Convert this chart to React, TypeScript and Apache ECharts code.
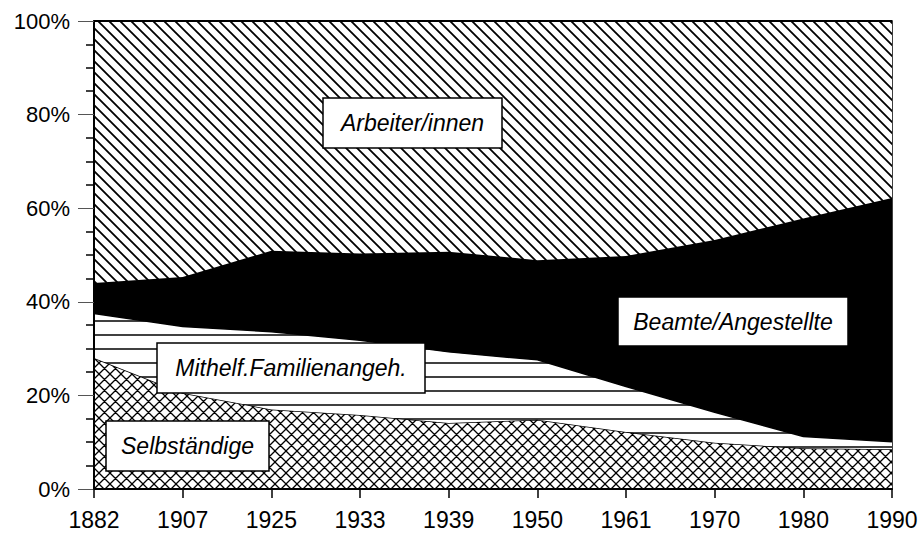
import React, { useEffect, useRef } from "react";
import * as echarts from "echarts";

const years = ["1882", "1907", "1925", "1933", "1939", "1950", "1961", "1970", "1980", "1990"];
const selbstaendige = [28, 20.5, 17, 15.8, 14.1, 14.8, 12.2, 9.9, 8.7, 8.5];
const mithelfende = [9.5, 14.2, 16.6, 16.0, 15.2, 12.8, 9.7, 6.5, 2.5, 1.6];
const beamte = [6.5, 10.6, 17.3, 18.5, 21.4, 21.3, 27.9, 36.8, 46.6, 52.1];
const arbeiter = [56, 54.7, 49.1, 49.7, 49.3, 51.1, 50.2, 46.8, 42.2, 37.8];

const seriesNames = ["Selbständige", "Mithelf.Familienangeh.", "Beamte/Angestellte", "Arbeiter/innen"];

const FONT = '"Liberation Sans", Arial, Helvetica, sans-serif';

const svgUrl = (inner: string, w: number, h: number) =>
  "data:image/svg+xml;charset=utf-8," +
  encodeURIComponent(
    `<svg xmlns="http://www.w3.org/2000/svg" width="${w}" height="${h}"><rect width="${w}" height="${h}" fill="white"/>${inner}</svg>`
  );

const diagPattern = {
  image: svgUrl('<path d="M-1,-1L12,12M-1,10L1,12M10,-1L12,1" stroke="black" stroke-width="1.8" fill="none"/>', 11, 11),
  repeat: "repeat",
  imageWidth: 11,
  imageHeight: 11,
};
const crossPattern = {
  image: svgUrl(
    '<path d="M-1,-1L12,12M-1,10L1,12M10,-1L12,1M-1,12L12,-1M-1,1L1,-1M10,12L12,10" stroke="black" stroke-width="1.3" fill="none"/>',
    11,
    11
  ),
  repeat: "repeat",
  imageWidth: 11,
  imageHeight: 11,
};
const horizPattern = {
  image: svgUrl('<path d="M0,13H14" stroke="black" stroke-width="1.5" fill="none"/>', 14, 14),
  repeat: "repeat",
  imageWidth: 14,
  imageHeight: 14,
};

// label boxes (layout)
const boxes = [
  { label: "Arbeiter/innen", x: 323, y: 98, w: 179, h: 50 },
  { label: "Beamte/Angestellte", x: 618, y: 297, w: 230, h: 49 },
  { label: "Mithelf.Familienangeh.", x: 157, y: 343, w: 268, h: 50 },
  { label: "Selbständige", x: 106, y: 421, w: 163, h: 50 },
];

export default function App() {
  const ref = useRef<HTMLDivElement>(null);
  useEffect(() => {
    if (!ref.current) return;
    const chart = echarts.init(ref.current, null, { renderer: "svg" });
    const fills = [crossPattern, horizPattern, "#000", diagPattern];
    const data = [selbstaendige, mithelfende, beamte, arbeiter];
    chart.setOption({
      animation: false,
      backgroundColor: "#fff",
      grid: {
        left: 94,
        right: 31,
        top: 21,
        bottom: 44,
        show: true,
        borderColor: "#000",
        borderWidth: 1.5,
        backgroundColor: "transparent",
      },
      xAxis: {
        type: "category",
        data: years,
        boundaryGap: false,
        axisLine: { lineStyle: { color: "#000", width: 2 } },
        axisTick: { show: true, length: 9, lineStyle: { color: "#000", width: 1.5 } },
        axisLabel: { color: "#000", fontSize: 23, fontFamily: FONT, margin: 19 },
        splitLine: { show: false },
        z: 10,
      },
      yAxis: {
        type: "value",
        min: 0,
        max: 100,
        interval: 20,
        axisLine: { show: true, lineStyle: { color: "#000", width: 2 } },
        axisTick: { show: true, length: 16, lineStyle: { color: "#555", width: 1 } },
        minorTick: { show: true, splitNumber: 4, length: 8, lineStyle: { color: "#000", width: 1.5 } },
        axisLabel: { color: "#000", fontSize: 22, fontFamily: FONT, margin: 24, formatter: "{value}%" },
        splitLine: { show: false },
        minorSplitLine: { show: false },
        z: 10,
      },
      series: seriesNames.map((name, i) => ({
        name,
        type: "line",
        stack: "total",
        data: data[i],
        symbol: "none",
        lineStyle: { color: "#000", width: i === 3 ? 2 : 1.5 },
        areaStyle: { color: fills[i], opacity: 1 },
        z: 2 + i,
      })),
      graphic: boxes.map((b) => ({
        type: "group",
        x: b.x,
        y: b.y,
        z: 100,
        children: [
          {
            type: "rect",
            shape: { x: 0, y: 0, width: b.w, height: b.h },
            style: { fill: "#fff", stroke: "#000", lineWidth: 1.5 },
            z: 100,
          },
          {
            type: "text",
            x: b.w / 2,
            y: b.h / 2,
            z: 101,
            style: {
              text: b.label,
              fill: "#000",
              fontSize: 23,
              fontStyle: "italic",
              fontFamily: FONT,
              align: "center",
              verticalAlign: "middle",
            },
          },
        ],
      })),
    });
    return () => chart.dispose();
  }, []);
  return (
    <div
      ref={ref}
      style={{ position: "fixed", left: 0, top: 0, width: 923, height: 533, background: "#fff" }}
    />
  );
}
